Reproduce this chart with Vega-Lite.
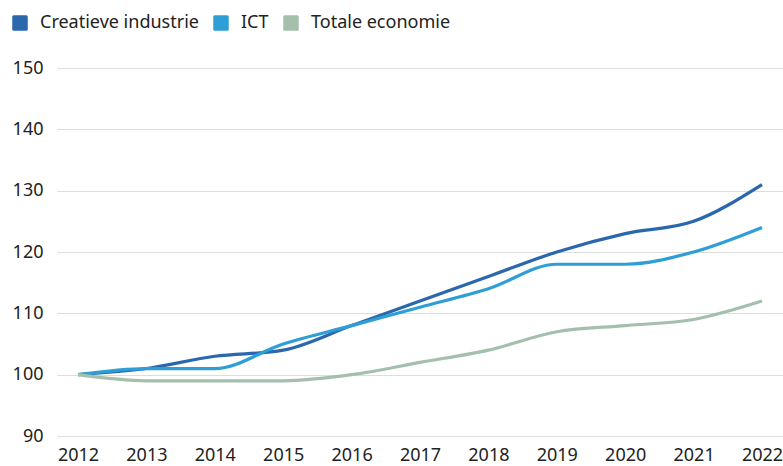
{
  "$schema": "https://vega.github.io/schema/vega-lite/v6.json",
  "width": 726,
  "height": 368,
  "autosize": {"type": "none"},
  "padding": {"left": 57, "top": 68, "right": 0, "bottom": 30},
  "background": "white",
  "config": {
    "font": "Noto Sans",
    "view": {"stroke": null},
    "axis": {"labelFont": "Noto Sans", "labelFontSize": 18, "labelColor": "#222222", "domain": false, "ticks": false},
    "legend": {"labelFont": "Noto Sans", "labelFontSize": 18, "labelColor": "#222222"}
  },
  "data": {
    "values": [
      {"year": "2012", "series": "Creatieve industrie", "value": 100},
      {"year": "2013", "series": "Creatieve industrie", "value": 101},
      {"year": "2014", "series": "Creatieve industrie", "value": 103},
      {"year": "2015", "series": "Creatieve industrie", "value": 104},
      {"year": "2016", "series": "Creatieve industrie", "value": 108},
      {"year": "2017", "series": "Creatieve industrie", "value": 112},
      {"year": "2018", "series": "Creatieve industrie", "value": 116},
      {"year": "2019", "series": "Creatieve industrie", "value": 120},
      {"year": "2020", "series": "Creatieve industrie", "value": 123},
      {"year": "2021", "series": "Creatieve industrie", "value": 125},
      {"year": "2022", "series": "Creatieve industrie", "value": 131},
      {"year": "2012", "series": "ICT", "value": 100},
      {"year": "2013", "series": "ICT", "value": 101},
      {"year": "2014", "series": "ICT", "value": 101},
      {"year": "2015", "series": "ICT", "value": 105},
      {"year": "2016", "series": "ICT", "value": 108},
      {"year": "2017", "series": "ICT", "value": 111},
      {"year": "2018", "series": "ICT", "value": 114},
      {"year": "2019", "series": "ICT", "value": 118},
      {"year": "2020", "series": "ICT", "value": 118},
      {"year": "2021", "series": "ICT", "value": 120},
      {"year": "2022", "series": "ICT", "value": 124},
      {"year": "2012", "series": "Totale economie", "value": 100},
      {"year": "2013", "series": "Totale economie", "value": 99},
      {"year": "2014", "series": "Totale economie", "value": 99},
      {"year": "2015", "series": "Totale economie", "value": 99},
      {"year": "2016", "series": "Totale economie", "value": 100},
      {"year": "2017", "series": "Totale economie", "value": 102},
      {"year": "2018", "series": "Totale economie", "value": 104},
      {"year": "2019", "series": "Totale economie", "value": 107},
      {"year": "2020", "series": "Totale economie", "value": 108},
      {"year": "2021", "series": "Totale economie", "value": 109},
      {"year": "2022", "series": "Totale economie", "value": 112}
    ]
  },
  "mark": {"type": "line", "strokeWidth": 3.2, "interpolate": "monotone"},
  "encoding": {
    "x": {
      "field": "year", "type": "ordinal",
      "scale": {"type": "point", "padding": 0.307},
      "axis": {"title": null, "labelAngle": 0, "labelPadding": 10, "grid": false}
    },
    "y": {
      "field": "value", "type": "quantitative",
      "scale": {"domain": [90, 150], "nice": false, "zero": false},
      "axis": {"title": null, "values": [90, 100, 110, 120, 130, 140, 150], "labelPadding": 14, "grid": true, "gridColor": "#dddddd", "gridWidth": 1}
    },
    "color": {
      "field": "series", "type": "nominal",
      "scale": {"domain": ["Creatieve industrie", "ICT", "Totale economie"], "range": ["#2a67ad", "#2e9ed6", "#a5bfad"]},
      "legend": {
        "title": null, "orient": "none", "legendX": -46, "legendY": -54, "direction": "horizontal",
        "symbolType": "M-0.8,-1 L0.8,-1 Q1,-1 1,-0.8 L1,0.8 Q1,1 0.8,1 L-0.8,1 Q-1,1 -1,0.8 L-1,-0.8 Q-1,-1 -0.8,-1 Z",
        "symbolSize": 240, "symbolOpacity": 1,
        "labelOffset": 11, "columnPadding": 13,
        "encode": {"symbols": {"update": {"fill": {"scale": "color", "field": "value"}, "fillOpacity": {"value": 1}, "strokeWidth": {"value": 0}}}}
      }
    }
  }
}
